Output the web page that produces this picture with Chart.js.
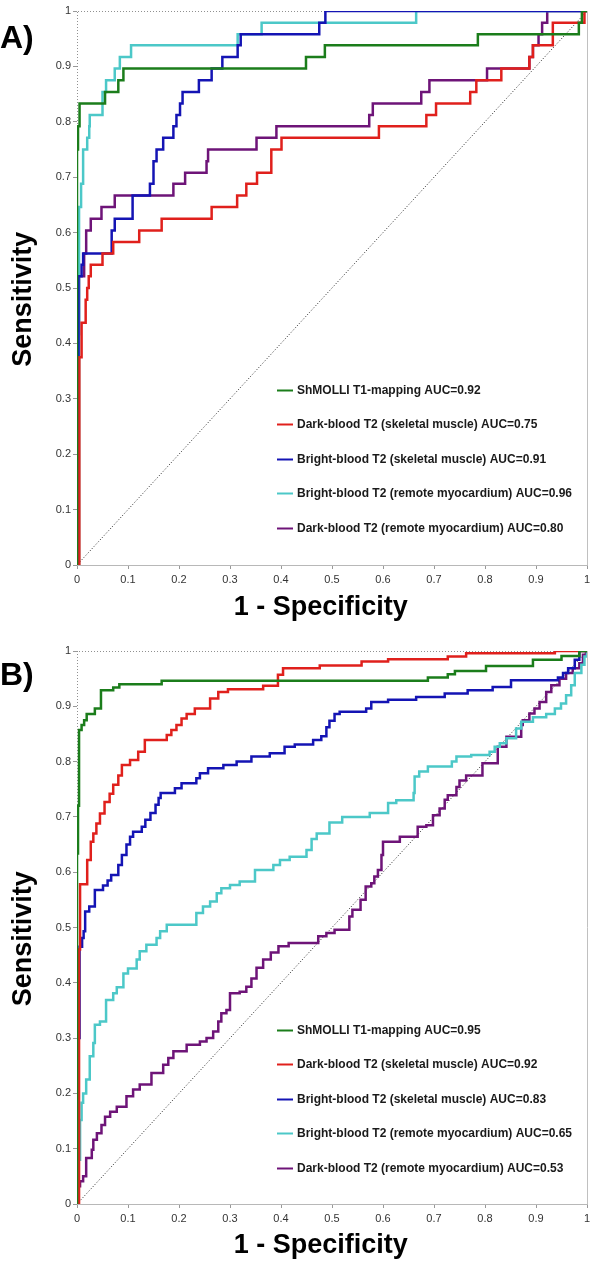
<!DOCTYPE html>
<html>
<head>
<meta charset="utf-8">
<script src="https://cdn.jsdelivr.net/npm/chart.js@4.4.0/dist/chart.umd.min.js"></script>
<style>
  html, body { margin: 0; padding: 0; background: #fff; }
  canvas { display: block; }
</style>
</head>
<body>
<canvas id="rocA" width="600" height="640"></canvas>
<canvas id="rocB" width="600" height="638"></canvas>
<script>
// series names + AUCs shown in the legends
const seriesNames = [
  'ShMOLLI T1-mapping',
  'Dark-blood T2 (skeletal muscle)',
  'Bright-blood T2 (skeletal muscle)',
  'Bright-blood T2 (remote myocardium)',
  'Dark-blood T2 (remote myocardium)'
];
const aucA = [0.92, 0.75, 0.91, 0.96, 0.80];
const aucB = [0.95, 0.92, 0.83, 0.65, 0.53];
const colors = ['#1b7d1b', '#e0201c', '#1414b4', '#4cc8c8', '#6e1478'];
const axisTicks = [0, 0.1, 0.2, 0.3, 0.4, 0.5, 0.6, 0.7, 0.8, 0.9, 1];

// panel A: 1 - specificity where sensitivity steps up, and the new sensitivity
const fprA_shmolli = [0, 0, 0.002, 0.005, 0.055, 0.081, 0.091, 0.449, 0.486, 0.786, 0.984, 0.99, 1];
const sensA_shmolli = [0, 0.75, 0.792, 0.833, 0.854, 0.875, 0.896, 0.917, 0.938, 0.958, 0.979, 1, 1];

const fprA_darkSkel = [0, 0.0046, 0.009, 0.017, 0.020, 0.023, 0.027, 0.050, 0.071, 0.122, 0.166, 0.264, 0.314, 0.332, 0.353, 0.381, 0.401, 0.592, 0.685, 0.704, 0.771, 0.783, 0.832, 0.887, 0.894, 0.933, 0.995, 1];
const sensA_darkSkel = [0, 0.375, 0.4375, 0.479, 0.5, 0.521, 0.542, 0.5625, 0.583, 0.604, 0.625, 0.646, 0.667, 0.688, 0.708, 0.75, 0.771, 0.792, 0.8125, 0.833, 0.854, 0.875, 0.896, 0.917, 0.938, 0.979, 1, 1];

const fprA_brightSkel = [0, 0.003, 0.009, 0.012, 0.068, 0.074, 0.109, 0.143, 0.150, 0.156, 0.169, 0.189, 0.195, 0.202, 0.207, 0.239, 0.264, 0.285, 0.315, 0.321, 0.475, 0.487, 1];
const sensA_brightSkel = [0, 0.521, 0.542, 0.5625, 0.604, 0.625, 0.667, 0.688, 0.729, 0.75, 0.771, 0.792, 0.8125, 0.833, 0.854, 0.875, 0.896, 0.917, 0.938, 0.958, 0.979, 1, 1];

const fprA_brightRemote = [0, 0.004, 0.008, 0.012, 0.020, 0.024, 0.025, 0.050, 0.057, 0.074, 0.084, 0.106, 0.315, 0.362, 0.665, 1];
const sensA_brightRemote = [0, 0.646, 0.688, 0.75, 0.771, 0.792, 0.8125, 0.854, 0.875, 0.896, 0.917, 0.938, 0.958, 0.979, 1, 1];

const fprA_darkRemote = [0, 0.003, 0.004, 0.014, 0.018, 0.027, 0.048, 0.074, 0.189, 0.212, 0.254, 0.257, 0.352, 0.391, 0.573, 0.580, 0.675, 0.691, 0.804, 0.887, 0.894, 0.905, 0.912, 0.922, 1];
const sensA_darkRemote = [0, 0.4167, 0.521, 0.5625, 0.604, 0.625, 0.646, 0.667, 0.688, 0.708, 0.729, 0.75, 0.771, 0.792, 0.8125, 0.833, 0.854, 0.875, 0.896, 0.917, 0.938, 0.958, 0.979, 1, 1];

// panel B
const fprB_shmolli = [0, 0, 0.002, 0.004, 0.009, 0.014, 0.019, 0.035, 0.047, 0.071, 0.083, 0.166, 0.688, 0.727, 0.741, 0.802, 0.894, 0.950, 0.985, 1];
const sensB_shmolli = [0, 0.634, 0.72, 0.857, 0.866, 0.875, 0.886, 0.896, 0.929, 0.934, 0.940, 0.946, 0.952, 0.958, 0.964, 0.973, 0.984, 0.991, 1, 1];

const fprB_darkSkel = [0, 0.004, 0.006, 0.020, 0.027, 0.032, 0.038, 0.045, 0.054, 0.064, 0.071, 0.081, 0.088, 0.104, 0.120, 0.133, 0.176, 0.185, 0.195, 0.205, 0.215, 0.231, 0.261, 0.277, 0.296, 0.365, 0.394, 0.404, 0.476, 0.558, 0.610, 0.727, 0.763, 0.937, 1];
const sensB_darkSkel = [0, 0.46, 0.578, 0.622, 0.655, 0.670, 0.688, 0.706, 0.727, 0.742, 0.758, 0.775, 0.794, 0.803, 0.818, 0.839, 0.848, 0.857, 0.866, 0.878, 0.886, 0.896, 0.914, 0.926, 0.931, 0.937, 0.957, 0.969, 0.974, 0.981, 0.985, 0.990, 0.996, 1, 1];

const fprB_brightSkel = [0, 0.003, 0.005, 0.010, 0.013, 0.016, 0.024, 0.035, 0.051, 0.060, 0.067, 0.081, 0.088, 0.097, 0.104, 0.110, 0.127, 0.134, 0.144, 0.154, 0.160, 0.164, 0.192, 0.205, 0.234, 0.241, 0.257, 0.287, 0.313, 0.342, 0.378, 0.407, 0.427, 0.463, 0.479, 0.489, 0.495, 0.505, 0.515, 0.567, 0.577, 0.610, 0.665, 0.721, 0.766, 0.815, 0.851, 0.943, 0.953, 0.963, 0.976, 0.985, 1];
const sensB_brightSkel = [0, 0.30, 0.465, 0.481, 0.493, 0.529, 0.538, 0.568, 0.576, 0.585, 0.595, 0.613, 0.631, 0.650, 0.664, 0.673, 0.682, 0.695, 0.707, 0.722, 0.734, 0.743, 0.752, 0.761, 0.770, 0.779, 0.788, 0.794, 0.800, 0.809, 0.815, 0.827, 0.831, 0.839, 0.846, 0.862, 0.874, 0.886, 0.890, 0.896, 0.908, 0.912, 0.917, 0.923, 0.929, 0.935, 0.947, 0.952, 0.960, 0.969, 0.984, 1, 1];

const fprB_brightRemote = [0, 0.002, 0.006, 0.009, 0.012, 0.018, 0.025, 0.032, 0.035, 0.045, 0.057, 0.071, 0.078, 0.091, 0.100, 0.117, 0.123, 0.136, 0.156, 0.163, 0.176, 0.234, 0.247, 0.261, 0.274, 0.283, 0.300, 0.319, 0.349, 0.385, 0.398, 0.417, 0.450, 0.460, 0.470, 0.495, 0.520, 0.574, 0.610, 0.626, 0.660, 0.662, 0.671, 0.688, 0.735, 0.744, 0.773, 0.809, 0.819, 0.829, 0.842, 0.861, 0.871, 0.894, 0.920, 0.937, 0.949, 0.959, 0.969, 0.976, 0.989, 0.995, 1];
const sensB_brightRemote = [0, 0.08, 0.152, 0.183, 0.200, 0.225, 0.267, 0.291, 0.324, 0.330, 0.369, 0.381, 0.392, 0.417, 0.426, 0.442, 0.457, 0.469, 0.481, 0.493, 0.505, 0.526, 0.538, 0.547, 0.562, 0.571, 0.577, 0.583, 0.604, 0.613, 0.622, 0.628, 0.640, 0.660, 0.670, 0.690, 0.700, 0.707, 0.725, 0.730, 0.743, 0.773, 0.782, 0.791, 0.800, 0.809, 0.812, 0.818, 0.827, 0.833, 0.842, 0.860, 0.872, 0.880, 0.886, 0.896, 0.905, 0.920, 0.938, 0.960, 0.975, 0.990, 1];

const fprB_darkRemote = [0, 0.002, 0.006, 0.012, 0.018, 0.029, 0.032, 0.039, 0.048, 0.055, 0.065, 0.078, 0.097, 0.110, 0.123, 0.146, 0.169, 0.179, 0.189, 0.215, 0.241, 0.254, 0.267, 0.277, 0.283, 0.293, 0.300, 0.319, 0.332, 0.342, 0.352, 0.365, 0.380, 0.395, 0.415, 0.473, 0.489, 0.505, 0.534, 0.540, 0.556, 0.566, 0.577, 0.583, 0.590, 0.597, 0.600, 0.633, 0.668, 0.685, 0.698, 0.711, 0.721, 0.727, 0.744, 0.750, 0.763, 0.795, 0.825, 0.842, 0.871, 0.874, 0.887, 0.897, 0.907, 0.920, 0.930, 0.946, 0.959, 0.972, 0.985, 0.992, 0.998, 1];
const sensB_darkRemote = [0, 0.032, 0.041, 0.050, 0.083, 0.098, 0.116, 0.128, 0.143, 0.158, 0.167, 0.176, 0.195, 0.207, 0.216, 0.237, 0.252, 0.264, 0.276, 0.288, 0.294, 0.300, 0.312, 0.330, 0.345, 0.351, 0.381, 0.384, 0.393, 0.408, 0.427, 0.442, 0.455, 0.466, 0.472, 0.484, 0.490, 0.496, 0.520, 0.532, 0.550, 0.574, 0.580, 0.592, 0.604, 0.631, 0.655, 0.664, 0.682, 0.685, 0.703, 0.715, 0.731, 0.739, 0.754, 0.766, 0.775, 0.797, 0.827, 0.845, 0.866, 0.875, 0.887, 0.896, 0.908, 0.926, 0.938, 0.950, 0.960, 0.969, 0.978, 0.993, 1, 1];

// chance line + dotted frame: (0,0) -> (0,1) -> (1,1) -> (0,0)
const refX = [0, 0, 1, 0];
const refY = [0, 1, 1, 0];

Chart.defaults.font.family = '"Liberation Sans", Arial, Helvetica, sans-serif';
Chart.defaults.color = '#333';

function toPoints(xs, ys) {
  return xs.map((x, i) => ({x: x, y: ys[i]}));
}

// draws the panel letter and the in-plot legend
const rocLegend = {
  id: 'rocLegend',
  afterDraw(chart, args, opts) {
    const ctx = chart.ctx;
    const area = chart.chartArea;
    ctx.save();
    ctx.fillStyle = '#000';
    ctx.font = 'bold 32px "Liberation Sans", Arial, sans-serif';
    ctx.textBaseline = 'alphabetic';
    ctx.textAlign = 'left';
    ctx.fillText(opts.panel, 0, opts.panelY);

    ctx.font = 'bold 12px "Liberation Sans", Arial, sans-serif';
    ctx.textBaseline = 'middle';
    let row = 0;
    chart.data.datasets.forEach(ds => {
      if (ds.isRef) return;
      const y = Math.round(area.top + 379 + row * 34.4) + 0.5;
      const x = area.left + 200;
      ctx.strokeStyle = ds.borderColor;
      ctx.lineWidth = 2;
      ctx.beginPath();
      ctx.moveTo(x, y);
      ctx.lineTo(x + 16, y);
      ctx.stroke();
      ctx.fillStyle = '#1a1a1a';
      ctx.fillText(ds.label, x + 20, y + 0.5);
      row++;
    });
    ctx.restore();
  }
};

function makeChart(id, panel, panelY, auc, curves, plotBottom) {
  const canvas = document.getElementById(id);
  const datasets = curves.map((c, i) => ({
    label: seriesNames[i] + ' AUC=' + auc[i].toFixed(2),
    data: toPoints(c[0], c[1]),
    borderColor: colors[i],
    borderWidth: 2.5,
    pointRadius: 0,
    stepped: 'before',
    fill: false
  }));
  datasets.push({
    label: 'chance',
    isRef: true,
    data: toPoints(refX, refY),
    borderColor: '#222',
    borderWidth: 1,
    borderDash: [1, 2],
    pointRadius: 0,
    fill: false
  });

  return new Chart(canvas.getContext('2d'), {
    type: 'line',
    data: {datasets: datasets},
    plugins: [rocLegend],
    options: {
      responsive: false,
      animation: false,
      devicePixelRatio: 1,
      events: [],
      layout: {padding: {left: 0, right: 13, top: 11, bottom: 0}},
      scales: {
        x: {
          type: 'linear',
          min: 0,
          max: 1,
          afterBuildTicks: s => { s.ticks = axisTicks.map(v => ({value: v})); },
          afterFit: s => { s.height = canvas.height - 11 - plotBottom; },
          grid: {
            color: c => (c.tick && c.tick.value === 1) ? '#c0c0c0' : 'rgba(0,0,0,0)',
            tickColor: '#999',
            tickLength: 4,
            lineWidth: 1
          },
          border: {display: true, color: '#b8b8b8'},
          ticks: {font: {size: 11}, color: '#333', padding: 4, maxRotation: 0, callback: v => String(v)},
          title: {
            display: true,
            text: '1 - Specificity   ',
            color: '#000',
            font: {size: 27, weight: 'bold'},
            padding: {top: 0, bottom: 16}
          }
        },
        y: {
          type: 'linear',
          min: 0,
          max: 1,
          afterBuildTicks: s => { s.ticks = axisTicks.map(v => ({value: v})); },
          afterFit: s => { s.width = 77; },
          grid: {drawOnChartArea: false, tickColor: '#999', tickLength: 4},
          border: {display: false},
          ticks: {font: {size: 11}, color: '#333', padding: 2, callback: v => String(v)},
          title: {
            display: true,
            text: 'Sensitivity   ',
            color: '#000',
            font: {size: 27, weight: 'bold'},
            padding: {top: 7, bottom: 0}
          }
        }
      },
      plugins: {
        legend: {display: false},
        tooltip: {enabled: false},
        rocLegend: {panel: panel, panelY: panelY}
      }
    }
  });
}

makeChart('rocA', 'A)', 48, aucA, [
  [fprA_shmolli, sensA_shmolli],
  [fprA_darkSkel, sensA_darkSkel],
  [fprA_brightSkel, sensA_brightSkel],
  [fprA_brightRemote, sensA_brightRemote],
  [fprA_darkRemote, sensA_darkRemote]
], 554);

makeChart('rocB', 'B)', 45, aucB, [
  [fprB_shmolli, sensB_shmolli],
  [fprB_darkSkel, sensB_darkSkel],
  [fprB_brightSkel, sensB_brightSkel],
  [fprB_brightRemote, sensB_brightRemote],
  [fprB_darkRemote, sensB_darkRemote]
], 553);
</script>
</body>
</html>
